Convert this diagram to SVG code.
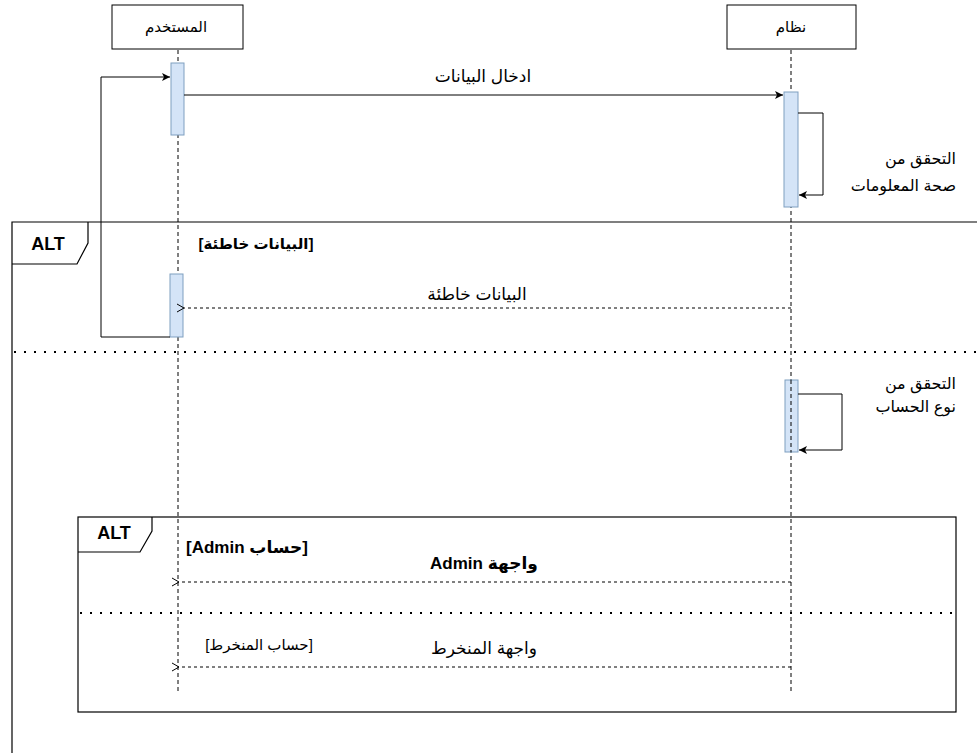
<svg xmlns="http://www.w3.org/2000/svg" width="977" height="753" viewBox="0 0 977 753">
<style>
text{font-family:"Liberation Sans","DejaVu Sans",Arial,sans-serif;font-size:15px;fill:#000}
.ar{direction:rtl;unicode-bidi:embed}
.m{font-size:17px}
.b{font-weight:bold}
.alt{font-size:18px;font-weight:bold}
.box{fill:#fff;stroke:#000;stroke-width:1}
.life{stroke:#000;stroke-width:1;stroke-dasharray:4 3;fill:none}
.act{fill:#d4e4f7;stroke:#7f9fc0;stroke-width:1}
.msg{stroke:#000;stroke-width:1;fill:none}
.ret{stroke:#000;stroke-width:1;fill:none;stroke-dasharray:3 3}
.frame{stroke:#000;stroke-width:1.2;fill:none}
.sep{stroke:#000;stroke-width:2;fill:none;stroke-dasharray:2 8}
</style>
<defs>
<marker id="fill" markerWidth="10" markerHeight="10" refX="8" refY="5" orient="auto" markerUnits="userSpaceOnUse">
<path d="M0,1 L8,5 L0,9 L2,5 Z" fill="#000"/>
</marker>
<marker id="open" markerWidth="12" markerHeight="12" refX="1" refY="6" orient="auto" markerUnits="userSpaceOnUse">
<path d="M8,2 L1,6 L8,10" fill="none" stroke="#000" stroke-width="1"/>
</marker>
</defs>

<g id="frame-outer">
<path class="frame" d="M12,753 L12,222 L977,222"/>
<path class="frame" d="M12,264 L77,264 L88,243 L88,222"/>
<text x="48" y="250" text-anchor="middle" class="alt">ALT</text>
<path class="sep" d="M14,352 L977,352"/>
<text x="256" y="249" text-anchor="middle" class="ar b">[البيانات خاطئة]</text>
</g>

<g id="frame-inner">
<rect class="frame" x="78" y="517" width="878" height="195"/>
<path class="frame" d="M78,552 L140,552 L152,531 L152,517"/>
<text x="114" y="539" text-anchor="middle" class="alt">ALT</text>
<path class="sep" d="M80,613 L956,613"/>
<text x="247" y="553" text-anchor="middle" class="ar b" style="font-size:17px">[حساب Admin]</text>
<text x="259" y="650" text-anchor="middle" class="ar">[حساب المنخرط]</text>
</g>

<g id="user">
<line class="life" x1="178" y1="50" x2="178" y2="693"/>
<rect class="box" x="112" y="5" width="131" height="44"/>
<text x="176" y="32" text-anchor="middle" class="ar">المستخدم</text>
<rect class="act" x="171" y="63" width="13" height="72"/>
<rect class="act" x="170" y="274" width="13" height="63"/>
</g>

<g id="system">
<line class="life" x1="791" y1="50" x2="791" y2="693"/>
<rect class="box" x="727" y="5" width="129" height="44"/>
<text x="791" y="32" text-anchor="middle" class="ar">نظام</text>
<rect class="act" x="784" y="92" width="14" height="115"/>
<rect class="act" x="785" y="380" width="13" height="72"/>
<line class="life" x1="791" y1="380" x2="791" y2="452"/>
</g>

<g id="connectors">
<line class="msg" x1="184" y1="95" x2="783" y2="95" marker-end="url(#fill)"/>
<text x="483" y="82" text-anchor="middle" class="ar m">ادخال البيانات</text>

<path class="msg" d="M798,113 L823,113 L823,195 L799,195" marker-end="url(#fill)"/>
<text x="956" y="164" text-anchor="start" class="ar" style="font-size:16px">التحقق من</text>
<text x="956" y="191" text-anchor="start" class="ar" style="font-size:16px">صحة المعلومات</text>

<path class="msg" d="M170,337 L101,337 L101,77 L170,77" marker-end="url(#fill)"/>

<line class="ret" x1="791" y1="308" x2="184" y2="308" marker-end="url(#open)"/>
<text x="477" y="300" text-anchor="middle" class="ar m">البيانات خاطئة</text>

<path class="msg" d="M798,394 L842,394 L842,450 L799,450" marker-end="url(#fill)"/>
<text x="956" y="389" text-anchor="start" class="ar" style="font-size:16px">التحقق من</text>
<text x="956" y="412" text-anchor="start" class="ar" style="font-size:16px">نوع الحساب</text>

<line class="ret" x1="791" y1="582" x2="179" y2="582" marker-end="url(#open)"/>
<text x="484" y="569" text-anchor="middle" class="ar b m">واجهة Admin</text>

<line class="ret" x1="791" y1="667" x2="179" y2="667" marker-end="url(#open)"/>
<text x="484" y="654" text-anchor="middle" class="ar m">واجهة المنخرط</text>
</g>
</svg>
